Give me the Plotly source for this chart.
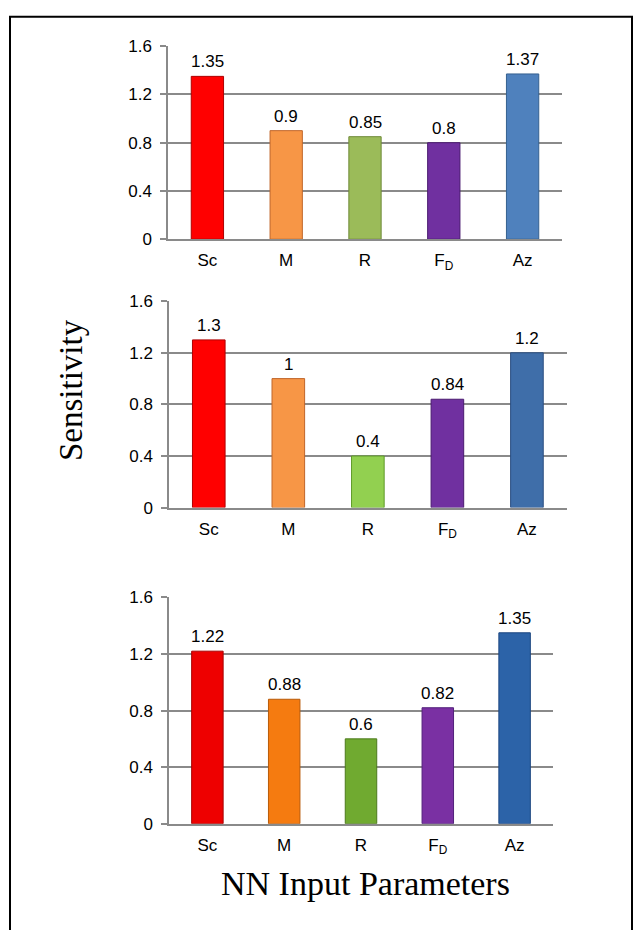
import plotly.graph_objects as go

# Input parameters (x categories) and sensitivity values for the three networks
categories = ["Sc", "M", "R", "F<sub>D</sub>", "Az"]
sens_top = [1.35, 0.9, 0.85, 0.8, 1.37]
sens_mid = [1.3, 1.0, 0.4, 0.84, 1.2]
sens_bot = [1.22, 0.88, 0.6, 0.82, 1.35]

y_ticks = [0, 0.4, 0.8, 1.2, 1.6]
y_tick_text = ["0", "0.4", "0.8", "1.2", "1.6"]

colors_top = ["#FF0000", "#F79646", "#9BBB59", "#7030A0", "#4F81BD"]
colors_mid = ["#FF0000", "#F79646", "#92D050", "#7030A0", "#3F6EA9"]
colors_bot = ["#EE0000", "#F57B10", "#70AA30", "#7A30A3", "#2C63A8"]

edge_top = ["#B00000", "#C0662A", "#6E8A38", "#4A1A70", "#35608F"]
edge_mid = ["#B00000", "#C0662A", "#5E9A28", "#4A1A70", "#2A4E80"]
edge_bot = ["#A80000", "#B85A08", "#4C7A1C", "#52207A", "#1C4680"]

W, H = 639, 930

# panel boxes in pixels: (x_left, x_right, y_top, y_bottom)
panels = [
    (168, 562, 38, 235),
    (169, 566.7, 298.3, 509),
    (169, 553, 600.7, 831.7),
]

series = [sens_top, sens_mid, sens_bot]
fills = [colors_top, colors_mid, colors_bot]
edges = [edge_top, edge_mid, edge_bot]

fig = go.Figure()

grid_col = "#8A8A8A"
tick_font = dict(family="Liberation Sans, Arial, sans-serif", size=17, color="#000000")
cat_font = dict(family="Liberation Sans Narrow, Arial Narrow, Liberation Sans, Arial, sans-serif",
                size=17, color="#000000")
label_font = dict(family="Liberation Sans, Arial, sans-serif", size=17, color="#000000")

for i, (vals, fc, ec, box) in enumerate(zip(series, fills, edges, panels)):
    n = "" if i == 0 else str(i + 1)
    xa = "x" + n
    ya = "y" + n
    fig.add_trace(go.Bar(
        x=categories, y=vals,
        marker=dict(color=fc, line=dict(color=ec, width=1)),
        width=0.41,
        xaxis=xa, yaxis=ya,
        showlegend=False,
        hoverinfo="x+y",
    ))
    for c, v in zip(categories, vals):
        fig.add_annotation(
            x=c, y=v, xref=xa, yref=ya,
            text=f"{v:g}", showarrow=False,
            yanchor="bottom", yshift=3,
            font=label_font,
        )
    xl, xr, yt, yb = box
    fig.update_layout(**{
        "xaxis" + n: dict(
            domain=[xl / W, xr / W], anchor=ya,
            showline=True, linecolor=grid_col, linewidth=1.5,
            showgrid=False, ticks="", tickfont=cat_font,
            ticklabelstandoff=5, fixedrange=True,
        ),
        "yaxis" + n: dict(
            domain=[1 - yb / H, 1 - yt / H], anchor=xa,
            range=[0, 1.6], tickvals=y_ticks, ticktext=y_tick_text,
            showline=True, linecolor=grid_col, linewidth=1.5,
            showgrid=True, gridcolor=grid_col, gridwidth=1.5,
            ticks="outside", ticklen=6, tickcolor=grid_col, tickwidth=1.5,
            tickfont=tick_font, ticklabelstandoff=5,
            zeroline=False, fixedrange=True,
        ),
    })

# outer frame
fig.add_shape(type="rect", xref="paper", yref="paper",
              x0=10 / W, x1=632 / W, y0=-0.05, y1=1 - 8 / H,
              line=dict(color="#000000", width=2), fillcolor="rgba(0,0,0,0)", layer="above")

title_font = dict(family="Liberation Serif, Times New Roman, serif", size=33, color="#000000")
fig.add_annotation(xref="paper", yref="paper", x=71 / W, y=1 - 389 / H,
                   text="Sensitivity", textangle=-90, showarrow=False,
                   xanchor="center", yanchor="middle", font=title_font)
fig.add_annotation(xref="paper", yref="paper", x=365 / W, y=1 - 893 / H,
                   text="NN Input Parameters", showarrow=False,
                   xanchor="center", yanchor="middle",
                   font=dict(title_font, size=34))

fig.update_layout(
    width=W, height=H,
    margin=dict(l=0, r=0, t=0, b=0),
    paper_bgcolor="#FFFFFF", plot_bgcolor="#FFFFFF",
    bargap=0.59,
)

fig.write_html("out.html", config={"displayModeBar": False})
